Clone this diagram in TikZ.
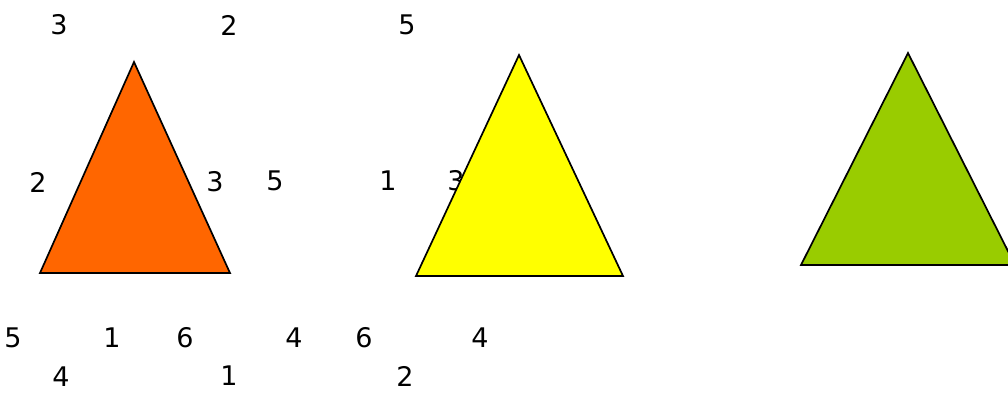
\documentclass[tikz,border=0pt]{standalone}
\usepackage{fontspec}
\setmainfont{DejaVu Sans}
\definecolor{triorange}{HTML}{FF6600}
\definecolor{triyellow}{HTML}{FFFF00}
\definecolor{trigreen}{HTML}{99CC00}
\begin{document}
\begin{tikzpicture}[x=1pt,y=-1pt,
  num/.style={inner sep=0pt,font=\fontsize{27}{27}\selectfont,text=black},
  tri/.style={draw=black,line width=1.7pt,line join=miter}]
\useasboundingbox (0,0) rectangle (1008,392);
% labels
\node[num] (a1) at (59,25) {3};
\node[num] (a2) at (229,25) {2};
\node[num] (a3) at (38,182) {2};
\node[num] (a4) at (215,182) {3};
\node[num] (a5) at (275,181) {5};
\node[num] (a6) at (13,338) {5};
\node[num] (a7) at (112,338) {1};
\node[num] (a8) at (185,338) {6};
\node[num] (a9) at (294,338) {4};
\node[num] (a10) at (61,377) {4};
\node[num] (a11) at (229,376) {1};
\node[num] (b1) at (407,25) {5};
\node[num] (b2) at (388,181) {1};
\node[num] (b3) at (456,181) {3};
\node[num] (b4) at (364,338) {6};
\node[num] (b5) at (480,338) {4};
\node[num] (b6) at (405,376) {2};
% triangles
\coordinate (oA) at (134,62);
\coordinate (oB) at (40,273);
\coordinate (oC) at (230,273);
\filldraw[tri,fill=triorange] (oA) -- (oB) -- (oC) -- cycle;
\coordinate (yA) at (519,55);
\coordinate (yB) at (416,276);
\coordinate (yC) at (623,276);
\filldraw[tri,fill=triyellow] (yA) -- (yB) -- (yC) -- cycle;
\coordinate (gA) at (908,53);
\coordinate (gB) at (801,265);
\coordinate (gC) at (1015,265);
\begin{scope}
\clip (0,0) rectangle (1008,392);
\filldraw[tri,fill=trigreen] (gA) -- (gB) -- (gC) -- cycle;
\end{scope}
\end{tikzpicture}
\end{document}
